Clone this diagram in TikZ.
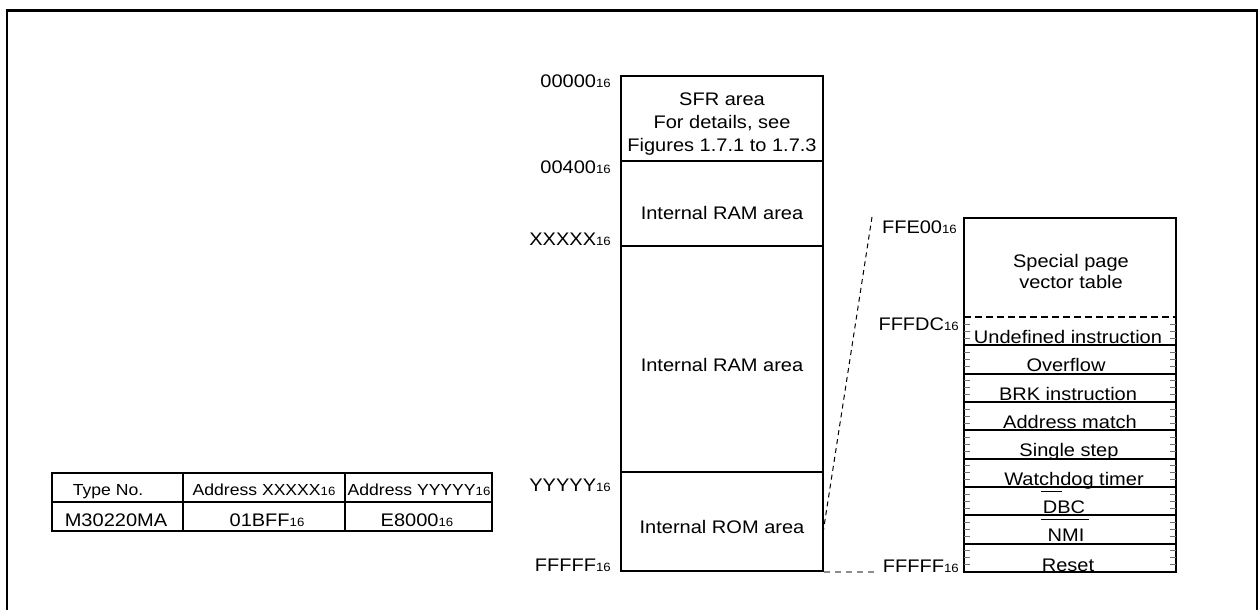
\documentclass[tikz,border=0pt]{standalone}
\usepackage{fontspec}
\setmainfont{Liberation Sans}[FakeStretch=1.1]
\newcommand{\hsub}{{\fontsize{12}{12}\selectfont 16}}
\begin{document}
\begin{tikzpicture}[x=1pt,y=-1pt,
  font=\fontsize{18.2}{22}\selectfont,
  boxline/.style={line width=2pt},
  txt/.style={inner sep=0pt,anchor=base},
  addr/.style={inner sep=0pt,anchor=base east},
  hdr/.style={inner sep=0pt,anchor=base,font=\fontsize{16}{18}\selectfont},
  tickline/.style={line width=1pt,draw=black!55},
  zoomline/.style={line width=1pt,dash pattern=on 5pt off 4pt},
  greydash/.style={line width=1.2pt,draw=black!45,dash pattern=on 6pt off 5pt}]
\useasboundingbox (0,0) rectangle (1259,610);
% outer frame
\draw[line width=2.2pt] (7,612) -- (7,10.5) -- (1257,10.5) -- (1257,612);

% main memory map
\draw[boxline] (621,76) rectangle (823,571);
\draw[boxline] (621,161) -- (823,161);
\draw[boxline] (621,246) -- (823,246);
\draw[boxline] (621,472) -- (823,472);
\node[txt] (sfr1) at (722,106) {SFR area};
\node[txt] (sfr2) at (722,128.5) {For details, see};
\node[txt] (sfr3) at (722,151) {Figures 1.7.1 to 1.7.3};
\node[txt] (ram1) at (722,219) {Internal RAM area};
\node[txt] (ram2) at (722,371) {Internal RAM area};
\node[txt] (rom) at (722,533) {Internal ROM area};
\node[addr] (a0) at (611,88) {00000\hsub};
\node[addr] (a1) at (611,173) {00400\hsub};
\node[addr] (a2) at (611,245) {XXXXX\hsub};
\node[addr] (a3) at (611,491) {YYYYY\hsub};
\node[addr] (a4) at (611,571) {FFFFF\hsub};

% expanded special page
\draw[boxline] (964,218) rectangle (1176,572);
\draw[boxline,dash pattern=on 7pt off 4pt] (964,317) -- (1176,317);
\foreach \i in {1,...,8} {
  \draw[boxline] (964,{317+28.333*\i}) -- (1176,{317+28.333*\i});
}
\foreach \i in {0,...,8} {
  \foreach \k in {1,2,3} {
    \draw[tickline] (964,{317+28.333*\i+7.083*\k}) -- ++(6,0);
    \draw[tickline] (1176,{317+28.333*\i+7.083*\k}) -- ++(-6,0);
  }
}
\node[txt] (sp1) at (1071,267) {Special page};
\node[txt] (sp2) at (1071,288) {vector table};
\node[txt] (v1) at (1068,343.3) {Undefined instruction};
\node[txt] (v2) at (1066,371.7) {Overflow};
\node[txt] (v3) at (1068,400) {BRK instruction};
\node[txt] (v4) at (1070,428.3) {Address match};
\node[txt] (v5) at (1069,456.7) {Single step};
\node[txt] (v6) at (1074,485) {Watchdog timer};
\node[txt] (v7) at (1064,513.3) {DBC};
\node[txt] (v8) at (1066,541.7) {NMI};
\node[txt] (v9) at (1068,571) {Reset};
\draw[line width=1.5pt] (1041,491.7) -- (1062,491.7);
\draw[line width=1.5pt] (1041,519.3) -- (1089,519.3);
\node[addr] (b0) at (957,233) {FFE00\hsub};
\node[addr] (b1) at (959,330) {FFFDC\hsub};
\node[addr] (b2) at (959,572) {FFFFF\hsub};

% zoom connectors
\coordinate (zs) at (823,533);
\coordinate (ze) at (872,217);
\coordinate (gs) at (824,572);
\coordinate (ge) at (874,572);
\draw[zoomline] (zs) -- (ze);
\draw[greydash] (gs) -- (ge);

% table
\draw[boxline] (52,473) rectangle (492,531);
\draw[boxline] (52,502) -- (492,502);
\draw[boxline] (183,473) -- (183,531);
\draw[boxline] (345,473) -- (345,531);
\node[hdr] (h1) at (108,495) {Type No.};
\node[hdr] (h2) at (264,495) {Address XXXXX\hsub};
\node[hdr] (h3) at (419,495) {Address YYYYY\hsub};
\node[txt] (c1) at (116,526) {M30220MA};
\node[txt] (c2) at (267,526) {01BFF\hsub};
\node[txt] (c3) at (417,526) {E8000\hsub};
\end{tikzpicture}
\end{document}
